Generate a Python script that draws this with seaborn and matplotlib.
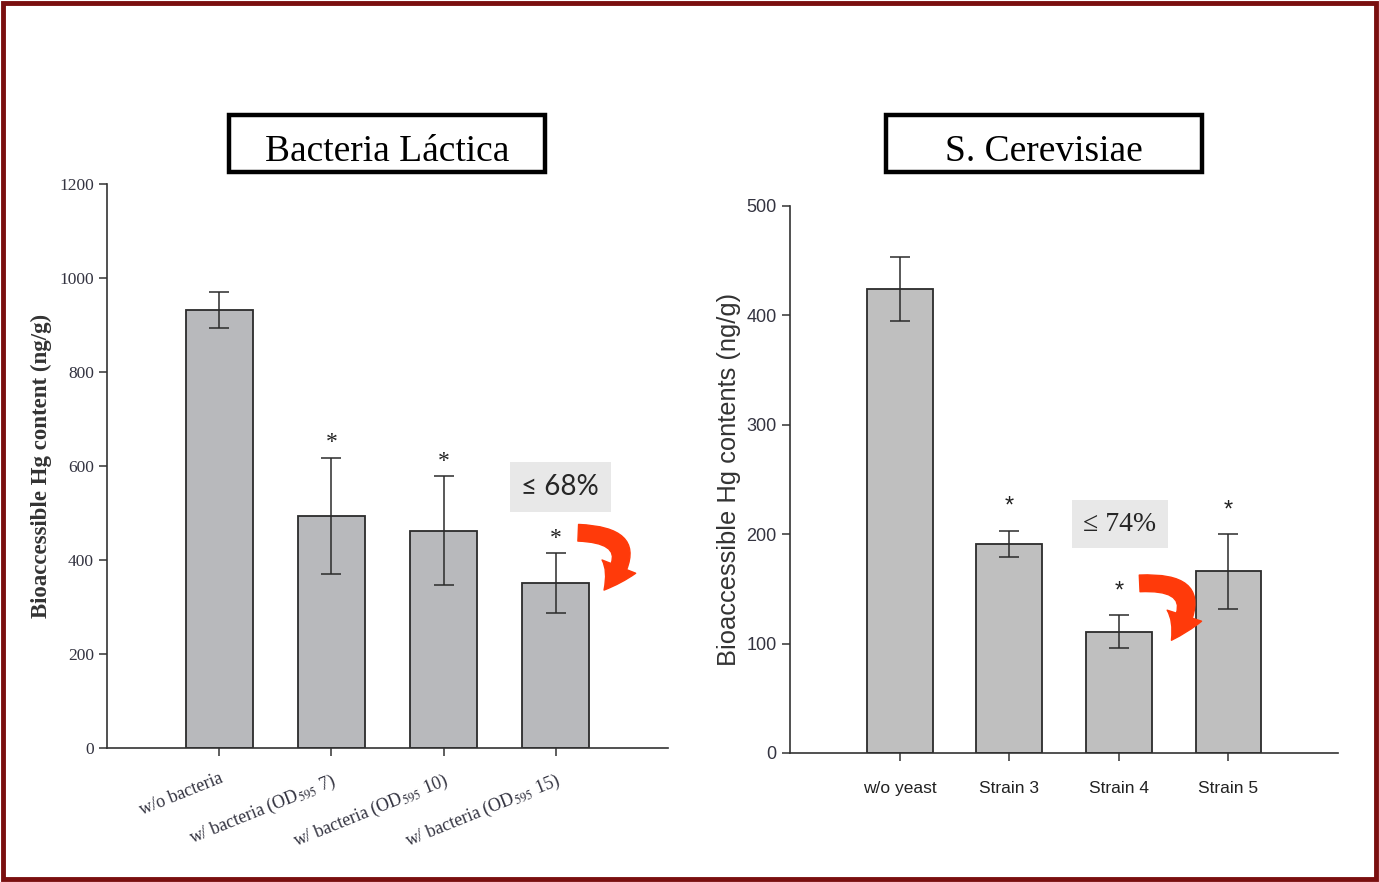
import matplotlib
matplotlib.use("Agg")
import matplotlib.pyplot as plt
import seaborn as sns
import pandas as pd
from matplotlib.patches import Rectangle

# left panel - lactic acid bacteria
lab_groups = ["w/o bacteria",
              r"w/ bacteria (OD$_{\mathrm{595}}$ 7)",
              r"w/ bacteria (OD$_{\mathrm{595}}$ 10)",
              r"w/ bacteria (OD$_{\mathrm{595}}$ 15)"]
lab_means = [932, 494, 462, 351]
lab_sd = [38, 123, 116, 63]
lab_signif = [False, True, True, True]
lab_ticks = [0, 200, 400, 600, 800, 1000, 1200]

# right panel - S. cerevisiae strains
yeast_groups = ["w/o yeast", "Strain 3", "Strain 4", "Strain 5"]
yeast_means = [424, 191, 111, 166]
yeast_sd = [29, 12, 15, 34]
yeast_signif = [False, True, True, True]
yeast_ticks = [0, 100, 200, 300, 400, 500]

sns.set_style("ticks")
plt.rcParams['font.family'] = ['Liberation Serif', 'DejaVu Serif']
plt.rcParams['mathtext.fontset'] = 'stix'

fig = plt.figure(figsize=(13.79, 8.82), dpi=100)

SERIF = ['Liberation Serif', 'DejaVu Serif']
SANS = ['Liberation Sans', 'DejaVu Sans']


def panel(ax, groups, means, sd, signif, ticks, bar_color, font, tick_fs, xtick_fs,
          lab_fs, ylabel, star_off, rot):
    df = pd.DataFrame({"group": groups, "value": means})
    sns.barplot(data=df, x="group", y="value", color=bar_color, saturation=1,
                edgecolor="#2b2b2b", linewidth=1.3, width=0.6, errorbar=None, ax=ax)
    ax.errorbar(range(len(groups)), means, yerr=sd, fmt="none", ecolor="#2b2b2b",
                elinewidth=1.1, capsize=7, capthick=1.1)
    for i, (m, s, sig) in enumerate(zip(means, sd, signif)):
        if sig:
            ax.text(i, m + s + star_off, "*", ha="center", va="center",
                    fontsize=17, color="#222222", family=font)
    ax.set_xlim(-1, 4)
    ax.set_ylim(ticks[0], ticks[-1])
    ax.set_yticks(ticks)
    ax.set_yticklabels([str(t) for t in ticks], family=font, fontsize=tick_fs,
                       color="#333340")
    ax.set_xlabel("")
    ax.set_ylabel(ylabel, family=font, fontsize=lab_fs, color="#333333")
    if rot:
        ax.set_xticklabels(groups, rotation=rot, ha="right", rotation_mode="anchor",
                           family=font, fontsize=xtick_fs, color="#333340")
    else:
        ax.set_xticklabels(groups, family=font, fontsize=xtick_fs, color="#222222")
    sns.despine(ax=ax)
    for sp in ("left", "bottom"):
        ax.spines[sp].set_color("#333333")
        ax.spines[sp].set_linewidth(1.2)
    ax.tick_params(direction="out", length=6, width=1.1, color="#333333")


ax1 = fig.add_axes([0.0776, 0.1519, 0.4068, 0.6395])
panel(ax1, lab_groups, lab_means, lab_sd, lab_signif, lab_ticks, "#b8b9bc",
      SERIF, 12.5, 13, 16.5, "Bioaccessible Hg content (ng/g)", 32, 22)
ax1.yaxis.label.set_fontweight("bold")
ax1.yaxis.labelpad = 5
ax1.tick_params(axis="x", pad=10)

ax2 = fig.add_axes([0.5729, 0.1463, 0.3974, 0.6202])
panel(ax2, yeast_groups, yeast_means, yeast_sd, yeast_signif, yeast_ticks, "#bfbfbf",
      SANS, 13, 12.5, 18.4, "Bioaccessible Hg contents (ng/g)", 22, 0)
ax2.yaxis.labelpad = 4
ax2.tick_params(axis="x", pad=14)

# title boxes
for x0, title in [(0.166, "Bacteria Láctica"), (0.6425, "S. Cerevisiae")]:
    fig.patches.append(Rectangle((x0, 0.805), 0.229, 0.065, transform=fig.transFigure,
                                 fill=False, edgecolor="black", linewidth=3.2))
    fig.text(x0 + 0.1145, 0.828, title, ha="center", va="center", fontsize=27,
             family=SERIF, color="black")

# reduction annotations
ax1.text(3.04, 555, "≤ 68%", ha="center", va="center", fontsize=20,
         family=['Lato', 'DejaVu Sans'],
         bbox=dict(boxstyle="square,pad=0.42", facecolor="#e8e8e8", edgecolor="none"))
ax2.text(2.01, 209, "≤ 74%", ha="center", va="center", fontsize=20,
         family=['Liberation Serif', 'DejaVu Serif'],
         bbox=dict(boxstyle="square,pad=0.42", facecolor="#e8e8e8", edgecolor="none"))

arrow_kw = dict(arrowstyle="simple,head_length=1.0,head_width=1.3,tail_width=0.6",
                color="#ff3a0a", mutation_scale=20, connectionstyle="arc3,rad=-1.0",
                shrinkA=0, shrinkB=0)
ax1.annotate("", xy=(3.43, 336), xytext=(3.2, 458), arrowprops=arrow_kw)
ax2.annotate("", xy=(2.48, 103), xytext=(2.19, 155), arrowprops=arrow_kw)

# dark red frame
fig.patches.append(Rectangle((0.002, 0.003), 0.996, 0.994, transform=fig.transFigure,
                             fill=False, edgecolor="#7a0f0f", linewidth=3.5))

plt.savefig("out.png", dpi=100)
